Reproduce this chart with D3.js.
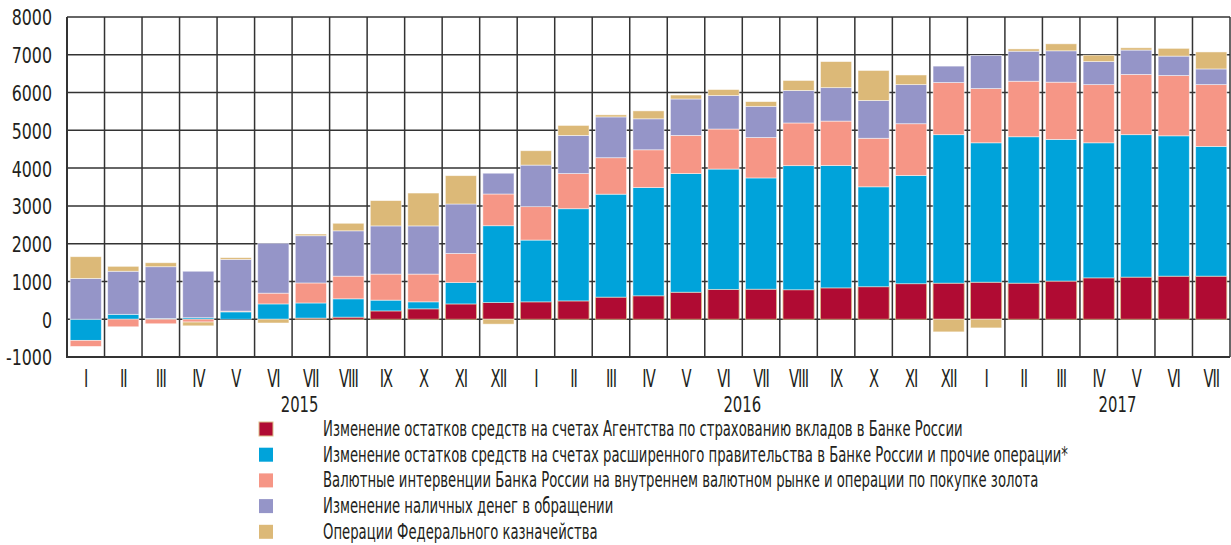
<!DOCTYPE html>
<html>
<head>
<meta charset="utf-8">
<script src="https://cdn.jsdelivr.net/npm/d3@7"></script>
<style>
  body { margin: 0; background: #fff; }
  svg text { font-family: "Liberation Sans Narrow", "DejaVu Sans Condensed", "Liberation Sans", sans-serif; fill: #231f20; }
</style>
</head>
<body>
<svg id="chart" width="1231" height="545"></svg>
<script>
// months, Jan 2015 - Jul 2017
const months = ["I","II","III","IV","V","VI","VII","VIII","IX","X","XI","XII",
                "I","II","III","IV","V","VI","VII","VIII","IX","X","XI","XII",
                "I","II","III","IV","V","VI","VII"];
const years = ["2015", "2016", "2017"];
const yearAt = [6.2, 18, 28]; // category boundary where the year label sits

// billion rubles
const dia = [0, 0, 0, 0, 0, 0, 30, 55, 220, 275, 405, 440,
             460, 485, 585, 620, 715, 790, 795, 780, 830, 860, 940, 955,
             980, 955, 1010, 1095, 1115, 1140, 1140];
const govt = [-560, 130, 20, 40, 195, 405, 400, 485, 285, 185, 565, 2035,
              1635, 2440, 2725, 2865, 3140, 3185, 2945, 3285, 3240, 2645, 2865, 3930,
              3690, 3875, 3750, 3575, 3770, 3715, 3435];
const fx = [-160, -200, -120, -75, 20, 285, 530, 600, 690, 735, 770, 840,
            885, 930, 965, 1000, 1010, 1060, 1070, 1130, 1175, 1285, 1370, 1380,
            1435, 1470, 1515, 1540, 1595, 1595, 1635];
const cash = [1080, 1140, 1370, 1230, 1370, 1320, 1250, 1200, 1275, 1275, 1310, 550,
              1100, 1010, 1080, 820, 965, 885, 825, 860, 885, 1000, 1035, 435,
              875, 795, 830, 610, 645, 515, 415];
const treasury = [575, 130, 105, -100, 45, -100, 45, 200, 670, 870, 750, -130,
                  380, 265, 55, 210, 105, 160, 125, 265, 690, 795, 255, -335,
                  -230, 60, 185, 170, 60, 205, 450];

const seriesNames = [
  "Изменение остатков средств на счетах Агентства по страхованию вкладов в Банке России",
  "Изменение остатков средств на счетах расширенного правительства в Банке России и прочие операции*",
  "Валютные интервенции Банка России на внутреннем валютном рынке и операции по покупке золота",
  "Изменение наличных денег в обращении",
  "Операции Федерального казначейства"
];
const keys = ["dia", "govt", "fx", "cash", "treasury"];
const colors = ["#b00b33", "#00a3da", "#f69686", "#9595c8", "#dcb978"];
const yTicks = [-1000, 0, 1000, 2000, 3000, 4000, 5000, 6000, 7000, 8000];

const rows = months.map((m, i) => ({
  i: i, month: m,
  dia: dia[i], govt: govt[i], fx: fx[i], cash: cash[i], treasury: treasury[i]
}));

const svg = d3.select("#chart");
const plotLeft = 67, plotRight = 1230, plotTop = 17, plotBottom = 357;
// the source uses a very narrow face, so squeeze the text horizontally
const squeeze = 0.68;

const x = d3.scaleBand()
  .domain(rows.map(d => d.i))
  .range([plotLeft, plotRight])
  .paddingInner(0.17)
  .paddingOuter(0.085);
const step = x.step();

const y = d3.scaleLinear()
  .domain([-1000, 8000])
  .range([plotBottom, plotTop]);

const color = d3.scaleOrdinal().domain(keys).range(colors);

// grid
const grid = svg.append("g").attr("stroke", "#333");
grid.selectAll("line.h")
  .data(yTicks)
  .enter().append("line")
  .attr("x1", plotLeft).attr("x2", plotRight)
  .attr("y1", d => y(d)).attr("y2", d => y(d))
  .attr("stroke-width", 1.5);
grid.selectAll("line.v")
  .data(d3.range(months.length + 1))
  .enter().append("line")
  .attr("x1", d => plotLeft + d * step).attr("x2", d => plotLeft + d * step)
  .attr("y1", plotTop).attr("y2", plotBottom)
  .attr("stroke-width", 1.5);
// frame emphasis
svg.append("line").attr("x1", plotLeft).attr("x2", plotLeft).attr("y1", plotTop).attr("y2", plotBottom)
  .attr("stroke", "#333").attr("stroke-width", 2);
svg.append("line").attr("x1", plotLeft - 1).attr("x2", plotRight).attr("y1", plotBottom).attr("y2", plotBottom)
  .attr("stroke", "#333").attr("stroke-width", 2);

// bars
const stack = d3.stack().keys(keys).offset(d3.stackOffsetDiverging);
const layers = stack(rows);

svg.append("g")
  .selectAll("g")
  .data(layers)
  .enter().append("g")
  .attr("fill", d => color(d.key))
  .attr("stroke", d => d.key === "dia" ? "#dcc08a" : "#ffffff")
  .attr("stroke-opacity", d => d.key === "dia" ? 1 : 0.6)
  .attr("stroke-width", 0.8)
  .selectAll("rect")
  .data(d => d.filter(s => s[1] - s[0] !== 0))
  .enter().append("rect")
  .attr("x", d => x(d.data.i))
  .attr("width", x.bandwidth())
  .attr("y", d => y(Math.max(d[0], d[1])))
  .attr("height", d => Math.abs(y(d[0]) - y(d[1])));

// y axis labels
const yAxis = svg.append("g")
  .attr("transform", "translate(52,0)")
  .call(d3.axisLeft(y).tickValues(yTicks).tickFormat(d => String(d)).tickSize(0).tickPadding(0));
yAxis.select(".domain").remove();
yAxis.attr("font-family", null).attr("font-size", null);
yAxis.selectAll("text")
  .attr("font-size", 22)
  .attr("x", 0)
  .attr("dy", "0.36em")
  .attr("transform", "scale(0.8,1)");

// month labels
const xAxis = svg.append("g")
  .attr("transform", "translate(0," + plotBottom + ")")
  .call(d3.axisBottom(x).tickFormat(i => months[i]).tickSize(0).tickPadding(0));
xAxis.select(".domain").remove();
xAxis.attr("font-family", null).attr("font-size", null);
xAxis.selectAll("text")
  .attr("font-size", 24)
  .attr("y", 30)
  .attr("dy", 0)
  .attr("letter-spacing", -1.5)
  .attr("transform", "scale(" + squeeze + ",1)");

// year labels
svg.append("g")
  .selectAll("text")
  .data(years)
  .enter().append("text")
  .attr("transform", (d, k) => "translate(" + (plotLeft + yearAt[k] * step) + ",412) scale(0.75,1)")
  .attr("text-anchor", "middle")
  .attr("font-size", 22)
  .text(d => d);

// legend
const legend = svg.append("g")
  .selectAll("g")
  .data(keys)
  .enter().append("g")
  .attr("transform", (d, k) => "translate(259," + (422 + k * 25.7) + ")");
legend.append("rect")
  .attr("width", 14).attr("height", 14)
  .attr("fill", d => color(d))
  .attr("stroke", d => d === "dia" ? "#dcc08a" : "none")
  .attr("stroke-width", 1);
legend.append("text")
  .attr("transform", "translate(64,14) scale(0.7,1)")
  .attr("font-size", 21)
  .text((d, k) => seriesNames[k]);
</script>
</body>
</html>
